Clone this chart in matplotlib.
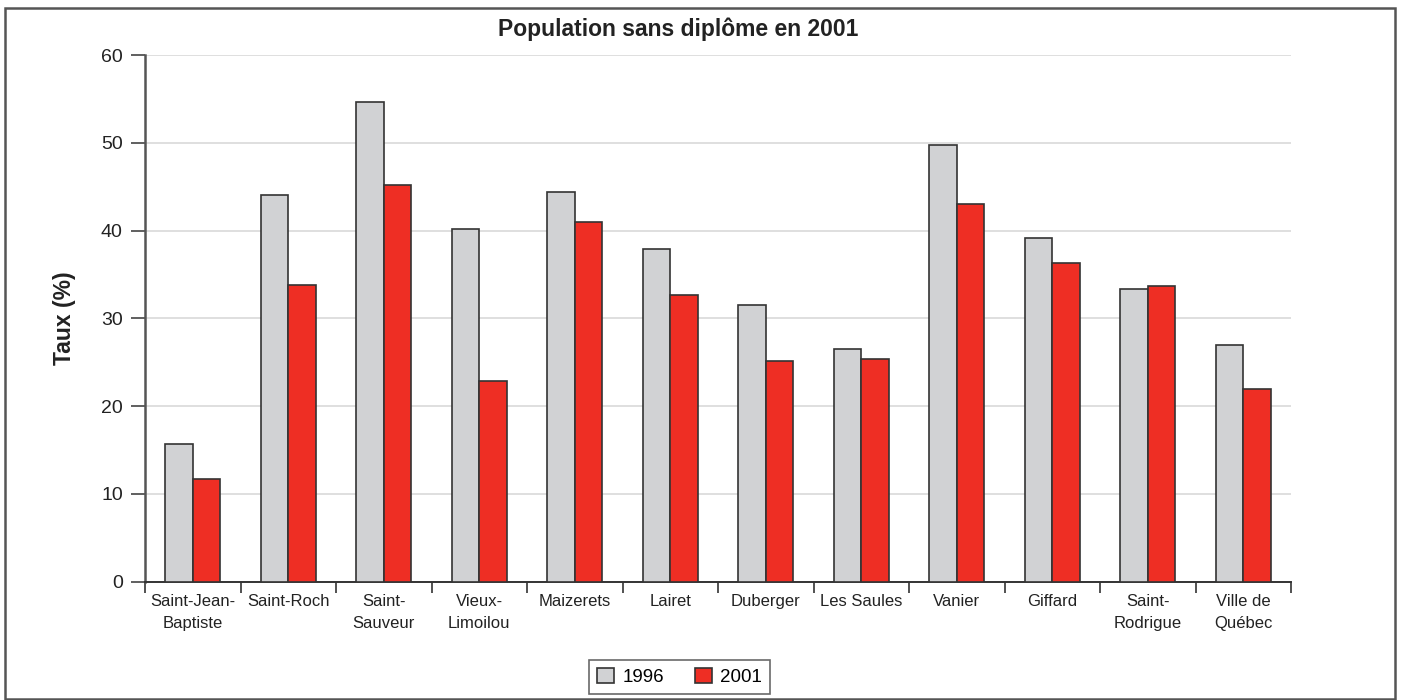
import numpy as np
import matplotlib.pyplot as plt
from matplotlib.patches import Rectangle

plt.rcParams['font.family'] = ['Liberation Sans', 'DejaVu Sans']

quartiers = ["Saint-Jean-\nBaptiste", "Saint-Roch", "Saint-\nSauveur", "Vieux-\nLimoilou",
             "Maizerets", "Lairet", "Duberger", "Les Saules", "Vanier", "Giffard",
             "Saint-\nRodrigue", "Ville de\nQuébec"]
taux_1996 = [15.7, 44.1, 54.7, 40.2, 44.4, 37.9, 31.5, 26.5, 49.7, 39.1, 33.4, 27.0]
taux_2001 = [11.7, 33.8, 45.2, 22.9, 41.0, 32.7, 25.1, 25.4, 43.0, 36.3, 33.7, 22.0]

gris = "#d1d2d4"
rouge = "#ee2e24"

fig = plt.figure(figsize=(14.01, 7.0), dpi=100)
ax = fig.add_axes([145 / 1401, 1 - 581.7 / 700, (1291 - 145) / 1401, (581.7 - 55) / 700])

x = np.arange(len(quartiers))
w = 0.29
b1 = ax.bar(x - w / 2, taux_1996, w, color=gris, edgecolor="#333333", linewidth=1.2, label="1996", zorder=3)
b2 = ax.bar(x + w / 2, taux_2001, w, color=rouge, edgecolor="#333333", linewidth=1.2, label="2001", zorder=3)

ax.set_ylim(0, 60)
ax.set_xlim(-0.5, len(quartiers) - 0.5)
ax.set_yticks(np.arange(0, 61, 10))
ax.tick_params(axis="y", labelsize=14, length=10, width=1.2, color="#444444", pad=6, labelcolor="#222222")
ax.yaxis.grid(True, color="#d9d9d9", linewidth=1.2, zorder=0)

# category boundaries get the ticks, names sit in between
ax.set_xticks(np.arange(-0.5, len(quartiers), 1.0))
ax.set_xticklabels([])
ax.set_xticks(x, minor=True)
ax.set_xticklabels(quartiers, minor=True, fontsize=12, color="#222222", linespacing=1.55)
ax.tick_params(axis="x", which="major", length=8, width=1.2, color="#333333")
ax.tick_params(axis="x", which="minor", length=0, pad=9)

for s in ["top", "right"]:
    ax.spines[s].set_visible(False)
ax.spines["left"].set_color("#555555")
ax.spines["left"].set_linewidth(1.8)
ax.spines["bottom"].set_color("#333333")
ax.spines["bottom"].set_linewidth(1.4)

ax.set_ylabel("Taux (%)", fontsize=16.5, fontweight="bold", labelpad=18, color="#222222")

fig.text(678 / 1401, 1 - 29 / 700, "Population sans diplôme en 2001", ha="center", va="center",
         fontsize=16.5, fontweight="bold", color="#222222")

leg = fig.legend(handles=[b1, b2], loc="center", bbox_to_anchor=(679.5 / 1401, 1 - 677 / 700),
                 ncol=2, fontsize=13.5, frameon=True, fancybox=False, edgecolor="#444444",
                 handlelength=0.9, handleheight=0.9, columnspacing=1.65, handletextpad=0.45,
                 borderpad=0.4)
leg.get_frame().set_linewidth(1.2)

fig.patches.append(Rectangle((5 / 1401, 1 / 700), 1390 / 1401, 691 / 700, transform=fig.transFigure,
                             fill=False, edgecolor="#555555", linewidth=1.8))

fig.savefig("out.png", dpi=100)
